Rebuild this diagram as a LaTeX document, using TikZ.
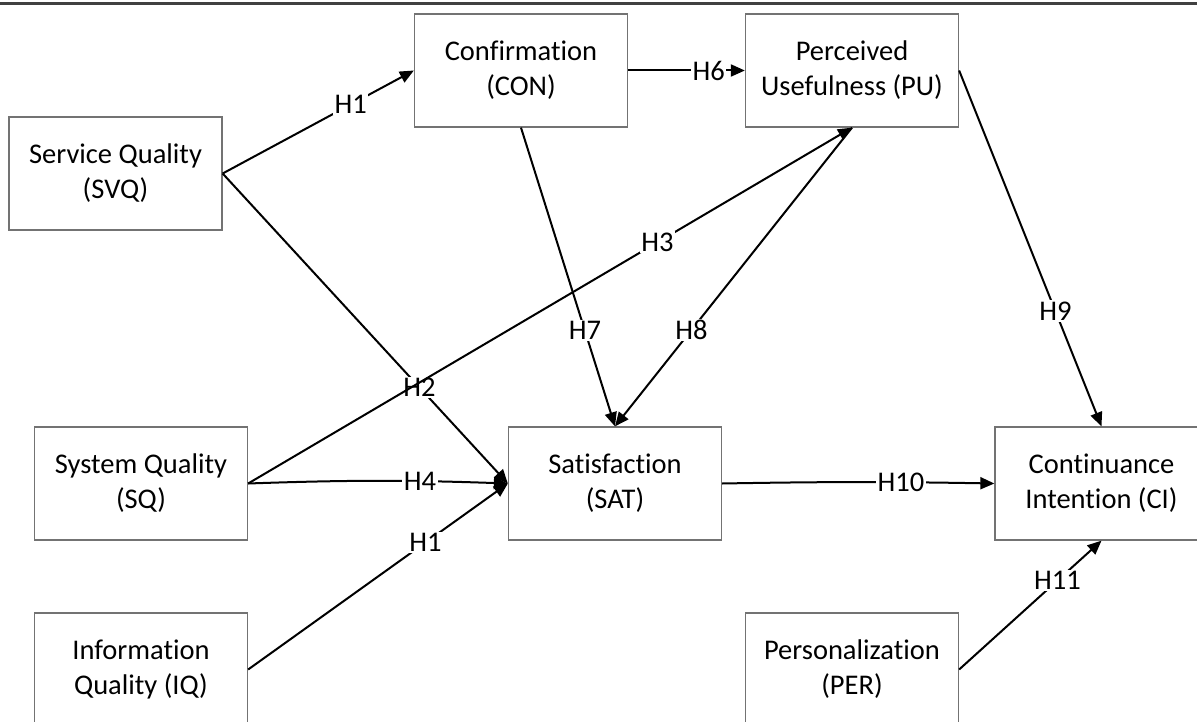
\documentclass[tikz,border=0pt]{standalone}
\usepackage{fontspec}
\setmainfont[Ligatures={NoCommon}]{Carlito}
\usetikzlibrary{arrows.meta}
\begin{document}
\begin{tikzpicture}[x=1pt,y=-1pt,
  box/.style={draw=black!55, line width=1.3pt, minimum width=213pt, minimum height=113pt, align=center, inner sep=0pt, font=\fontsize{28.5}{35}\selectfont},
  conn/.style={draw=black, line width=2pt, -{Triangle[length=14pt,width=12pt]}},
  lab/.style={fill=white, inner sep=1.5pt, font=\fontsize{28.5}{35}\selectfont}
]
\clip (0,0) rectangle (1197,722);
\fill[white] (0,0) rectangle (1197,722);
\coordinate (tl) at (0,3.5);
\coordinate (tr) at (1197,3.5);
\draw[line width=3pt, black!75] (tl) -- (tr);

\node[box] (SVQ) at (115.5,173.5) {Service Quality\\(SVQ)};
\node[box] (CON) at (521,70.5) {Confirmation\\(CON)};
\node[box] (PU)  at (852,70.5) {Perceived\\Usefulness (PU)};
\node[box] (SQ)  at (141,483.5) {System Quality\\(SQ)};
\node[box] (SAT) at (615,483.5) {Satisfaction\\(SAT)};
\node[box] (CI)  at (1101.5,483.5) {Continuance\\Intention (CI)};
\node[box] (IQ)  at (141,669.5) {Information\\Quality (IQ)};
\node[box] (PER) at (852,669.5) {Personalization\\(PER)};

\draw[conn] (SVQ.east) -- node[lab, pos=0.67] {H1} (CON.west);
\draw[conn] (SVQ.east) -- node[lab, pos=0.69] {H2} (SAT.west);
\draw[conn] (SQ.east) -- node[lab, pos=0.678] {H3} (PU.south);
\draw[conn] (SQ.east) to[bend left=2] node[lab, pos=0.675] {H4} (SAT.west);
\draw[conn] (IQ.east) -- node[lab, pos=0.683] {H1} (SAT.west);
\draw[conn] (CON.east) -- node[lab, pos=0.69] {H6} (PU.west);
\draw[conn] (CON.south) -- node[lab, pos=0.68] {H7} (SAT.north);
\draw[conn] (PU.south) -- node[lab, pos=0.677] {H8} (SAT.north);
\draw[conn] (PU.east) -- node[lab, pos=0.676] {H9} (CI.north);
\draw[conn] (SAT.east) to[bend left=1] node[lab, pos=0.67] {H10} (CI.west);
\draw[conn] (PER.east) -- node[lab, pos=0.69] {H11} (CI.south);
\end{tikzpicture}
\end{document}
